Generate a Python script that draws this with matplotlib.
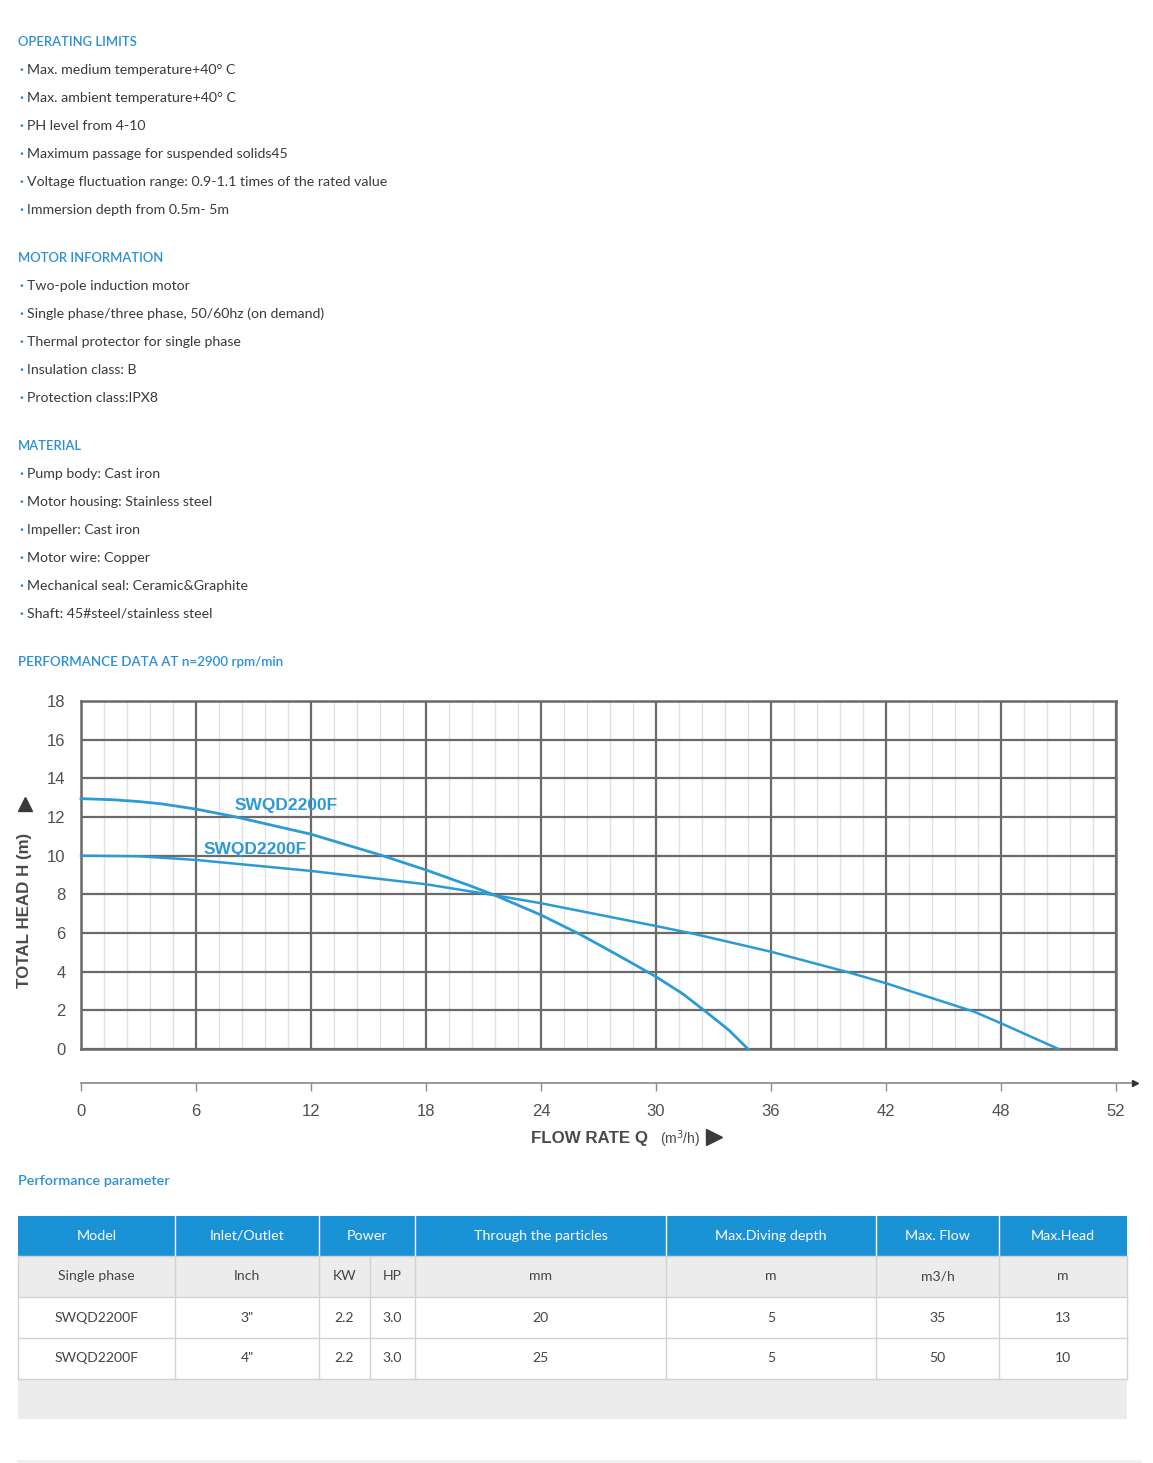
import matplotlib
matplotlib.use("Agg")
import matplotlib.pyplot as plt
from matplotlib.lines import Line2D
from matplotlib.patches import Rectangle

# ---- text blocks ----
operating_limits = [
    "Max. medium temperature+40° C",
    "Max. ambient temperature+40° C",
    "PH level from 4-10",
    "Maximum passage for suspended solids45",
    "Voltage fluctuation range: 0.9-1.1 times of the rated value",
    "Immersion depth from 0.5m- 5m",
]
motor_info = [
    "Two-pole induction motor",
    "Single phase/three phase, 50/60hz (on demand)",
    "Thermal protector for single phase",
    "Insulation class: B",
    "Protection class:IPX8",
]
material = [
    "Pump body: Cast iron",
    "Motor housing: Stainless steel",
    "Impeller: Cast iron",
    "Motor wire: Copper",
    "Mechanical seal: Ceramic&Graphite",
    "Shaft: 45#steel/stainless steel",
]

# ---- performance curves (flow m3/h, head m) ----
q_3in = [0, 1.7, 3.0, 4.2, 6.0, 8.0, 12.0, 15.6, 18.0, 20.2, 21.6, 24.0,
         26.0, 28.0, 30.0, 31.4, 32.6, 33.8, 34.8]
h_3in = [12.95, 12.89, 12.80, 12.68, 12.41, 12.02, 11.11, 10.04, 9.26, 8.48,
         7.95, 6.93, 5.95, 4.86, 3.74, 2.85, 1.93, 0.98, 0]
q_4in = [0, 3.0, 6.0, 12.0, 18.0, 21.6, 24.0, 30.0, 32.0, 36.0, 40.1, 42.0,
         46.6, 48.0, 51.0]
h_4in = [10.0, 9.97, 9.78, 9.21, 8.52, 7.95, 7.54, 6.36, 5.95, 5.03, 3.95,
         3.40, 1.93, 1.33, 0]
curve_labels = ["SWQD2200F", "SWQD2200F"]

y_ticks = [0, 2, 4, 6, 8, 10, 12, 14, 16, 18]
x_tick_pos = [0, 6, 12, 18, 24, 30, 36, 42, 48, 54]
x_tick_labels = ["0", "6", "12", "18", "24", "30", "36", "42", "48", "52"]

# ---- table ----
header = ["Model", "Inlet/Outlet", "Power", "Through the particles",
          "Max.Diving depth", "Max. Flow", "Max.Head"]
units = ["Single phase", "Inch", "KW", "HP", "mm", "m", "m3/h", "m"]
rows = [
    ["SWQD2200F", '3"', "2.2", "3.0", "20", "5", "35", "13"],
    ["SWQD2200F", '4"', "2.2", "3.0", "25", "5", "50", "10"],
]

W, H = 1153, 1463
BLUE = "#2a8fd4"
CURVE = "#2b9bd6"
TXT = "#3a3a3a"
BODY = "Lato"
ARIAL = "Liberation Sans"

fig = plt.figure(figsize=(W / 100, H / 100), dpi=100)
bg = fig.add_axes([0, 0, 1, 1])
bg.set_xlim(0, W)
bg.set_ylim(H, 0)
bg.axis("off")


def heading(y, s, size=9.4):
    bg.text(18, y, s, color=BLUE, fontsize=size, family=BODY,
            fontweight="semibold", va="center", ha="left")


def bullets(y0, items):
    for i, s in enumerate(items):
        y = y0 + 28 * i
        bg.text(19, y, "·", color=BLUE, fontsize=10, family=BODY,
                va="center", fontweight="bold")
        bg.text(27, y, s, color=TXT, fontsize=10.2, family=BODY,
                va="center")


heading(42, "OPERATING LIMITS")
bullets(70, operating_limits)
heading(258, "MOTOR INFORMATION")
bullets(286, motor_info)
heading(446, "MATERIAL")
bullets(474, material)
heading(662, "PERFORMANCE DATA AT n=2900 rpm/min", size=9.6)
heading(1181, "Performance parameter", size=10.4)

# ---- chart ----
L, R, T, B = 81, 1116, 701, 1049
ax = fig.add_axes([L / W, 1 - B / H, (R - L) / W, (B - T) / H])
ax.set_xlim(0, 54)
ax.set_ylim(0, 18)
for k in range(46):
    xv = k * 1.2
    if k % 5:
        ax.axvline(xv, color="#e2e2e2", lw=1.0, zorder=1)
for xv in range(0, 55, 6):
    ax.axvline(xv, color="#6a6a6a", lw=1.6, zorder=2)
for yv in y_ticks:
    ax.axhline(yv, color="#6a6a6a", lw=1.6, zorder=2)
for sp in ax.spines.values():
    sp.set_color("#6a6a6a")
    sp.set_linewidth(1.8)
ax.set_xticks([])
ax.set_yticks(y_ticks)
ax.tick_params(axis="y", length=0, pad=11, labelsize=12, labelcolor="#505050")
for lab in ax.get_yticklabels():
    lab.set_family(ARIAL)

ax.plot(q_3in, h_3in, color=CURVE, lw=2.0, zorder=4, clip_on=False,
        solid_joinstyle="round")
ax.plot(q_4in, h_4in, color=CURVE, lw=1.8, zorder=4, clip_on=False,
        solid_joinstyle="round")
ax.text(8.0, 12.6, curve_labels[0], color=CURVE, fontsize=12.5,
        fontweight="bold", family=ARIAL, va="center", ha="left", zorder=5)
ax.text(6.4, 10.3, curve_labels[1], color=CURVE, fontsize=12.5,
        fontweight="bold", family=ARIAL, va="center", ha="left", zorder=5)

# y label with arrow
bg.text(25, 910, "TOTAL HEAD H (m)", rotation=90, color="#4a4a4a",
        fontsize=12.2, fontweight="bold", family=ARIAL, va="center", ha="center")
bg.add_line(Line2D([25], [804], marker="^", markersize=10, color="#3a3a3a",
                   linestyle="none"))

# separate flow axis
ax2 = fig.add_axes([L / W, 1 - 1083 / H, (R - L) / W, 0.001])
ax2.set_xlim(0, 54)
ax2.set_ylim(0, 1)
for name in ["top", "left", "right", "bottom"]:
    ax2.spines[name].set_visible(False)
ax2.set_yticks([])
ax2.set_xticks(x_tick_pos)
ax2.set_xticklabels(x_tick_labels)
ax2.tick_params(axis="x", direction="out", length=6, width=1, color="#8a8a8a",
                pad=9, labelsize=12, labelcolor="#505050")
for lab in ax2.get_xticklabels():
    lab.set_family(ARIAL)
ax2.plot([0, 54.8], [0, 0], color="#9a9a9a", lw=1.4, clip_on=False)
ax2.plot([55.0], [0], marker=">", color="#333333", markersize=5, clip_on=False)

bg.text(648, 1138, "FLOW RATE Q", color="#4a4a4a", fontsize=12.2,
        fontweight="bold", family=ARIAL, ha="right", va="center")
bg.text(660, 1139, "(m$^3$/h)", color="#4a4a4a", fontsize=10,
        family=ARIAL, ha="left", va="center")
bg.add_line(Line2D([714], [1137], marker=">", markersize=11, color="#3a3a3a",
                   linestyle="none"))

# ---- table ----
cols = [18, 175, 319, 415, 666, 876, 999, 1127]
sub_cols = [18, 175, 319, 370, 415, 666, 876, 999, 1127]
row_y = [1216, 1256, 1297, 1338, 1379, 1419]
HEAD = "#1a92d6"
GRID = "#d2d2d2"

bg.add_patch(Rectangle((18, 1216), 1109, 40, color=HEAD, lw=0))
bg.add_patch(Rectangle((18, 1256), 1109, 41, color="#ececec", lw=0))
bg.add_patch(Rectangle((18, 1379), 1109, 40, color="#ececec", lw=0))
for i, s in enumerate(header):
    xc = (cols[i] + cols[i + 1]) / 2
    bg.text(xc, 1236, s, color="white", fontsize=10.3, family=BODY,
            ha="center", va="center")
for xv in cols[1:-1]:
    bg.plot([xv, xv], [1216, 1256], color="white", lw=1)

table_rows = [units] + rows
for r, vals in enumerate(table_rows):
    yc = (row_y[r + 1] + row_y[r + 2]) / 2
    for i, s in enumerate(vals):
        xc = (sub_cols[i] + sub_cols[i + 1]) / 2
        bg.text(xc, yc, s, color="#444444", fontsize=10.1, family=BODY,
                ha="center", va="center")
for xv in sub_cols:
    bg.plot([xv, xv], [1256, 1379], color=GRID, lw=1)
for yv in row_y[1:5]:
    bg.plot([18, 1127], [yv, yv], color=GRID, lw=1)

bg.plot([18, 1140], [1461, 1461], color="#f0f0f0", lw=2)

fig.savefig("out.png", dpi=100)
